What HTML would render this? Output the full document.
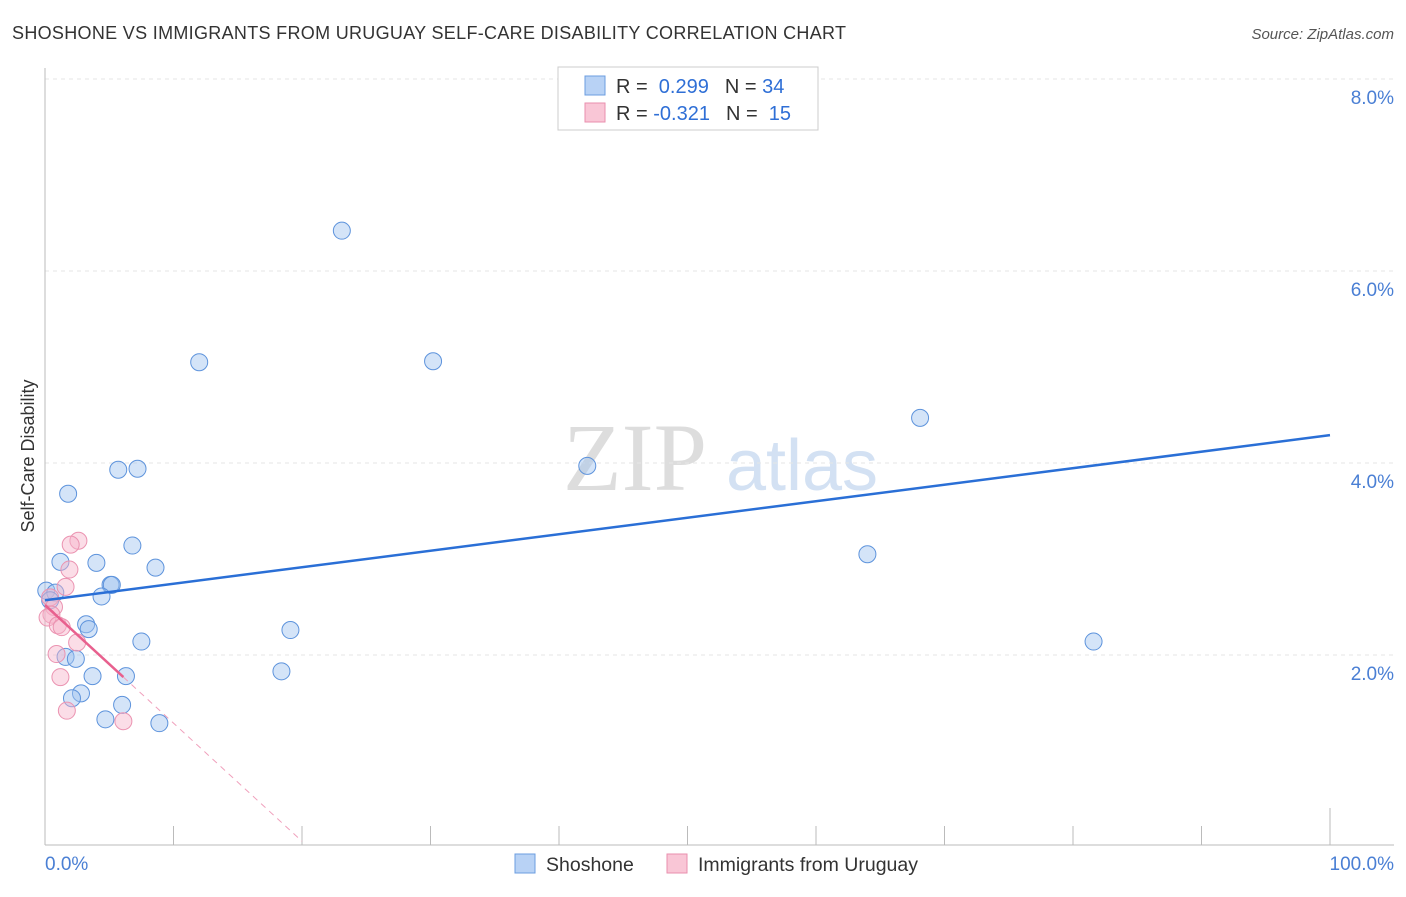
<!DOCTYPE html>
<html><head><meta charset="utf-8"><style>
body{margin:0;background:#fff;font-family:"Liberation Sans",sans-serif}
</style></head><body>
<svg width="1406" height="892" font-family="Liberation Sans, sans-serif" xmlns="http://www.w3.org/2000/svg">
<text x="12" y="39" font-size="18" fill="#333" textLength="834">SHOSHONE VS IMMIGRANTS FROM URUGUAY SELF-CARE DISABILITY CORRELATION CHART</text>
<text x="1394" y="39" font-size="15" fill="#555" font-style="italic" text-anchor="end">Source: ZipAtlas.com</text>
<g><text x="635" y="490" font-size="96" fill="#ddd" style="font-family:'Liberation Serif',serif" text-anchor="middle">ZIP</text><text x="802" y="490" font-size="72" fill="#d3e1f3" text-anchor="middle">atlas</text></g>
<g id="grid"></g>
<line x1="45" y1="68" x2="45" y2="845" stroke="#bbb"/>
<line x1="45" y1="845" x2="1394" y2="845" stroke="#bbb"/>
<g id="ticks"></g>
<text x="45" y="870" font-size="19" fill="#4a7fd4">0.0%</text>
<text x="1394" y="870" font-size="19" fill="#4a7fd4" text-anchor="end">100.0%</text>
<text transform="translate(34,456) rotate(-90)" font-size="18" fill="#333" text-anchor="middle">Self-Care Disability</text>
<g id="pts"></g>
<g id="trends"></g>
<g>
<rect x="558" y="67" width="260" height="63" fill="#fff" stroke="#ccc"/>
<rect x="585" y="76" width="20" height="19" fill="#b8d2f5" stroke="#6b9de0"/>
<text x="616" y="93" font-size="20" fill="#333">R = <tspan fill="#2f6fd6">&#160;0.299</tspan><tspan dx="16">N = </tspan><tspan fill="#2f6fd6">34</tspan></text>
<rect x="585" y="103" width="20" height="19" fill="#f9c6d6" stroke="#e98fae"/>
<text x="616" y="120" font-size="20" fill="#333">R = <tspan fill="#2f6fd6">-0.321</tspan><tspan dx="16">N = </tspan><tspan fill="#2f6fd6">&#160;15</tspan></text>
</g>
<g>
<rect x="515" y="854" width="20" height="19" fill="#b8d2f5" stroke="#6b9de0"/>
<text x="546" y="871" font-size="19.5" fill="#333">Shoshone</text>
<rect x="667" y="854" width="20" height="19" fill="#f9c6d6" stroke="#e98fae"/>
<text x="698" y="871" font-size="19.5" fill="#333">Immigrants from Uruguay</text>
</g>
</svg>
<script>
const yTicks=[2,4,6,8];
const yTickLabels=["2.0%","4.0%","6.0%","8.0%"];
const xTicks=[0,10,20,30,40,50,60,70,80,90,100];
const shoshoneX=[23.1,12.0,30.2,68.1,42.2,5.7,7.2,1.8,6.8,1.2,4.0,8.6,5.1,5.2,64.0,0.1,0.8,4.4,0.4,3.2,3.4,19.1,7.5,81.6,1.6,2.4,18.4,6.3,3.7,2.8,2.1,6.0,4.7,8.9];
const shoshoneY=[6.42,5.05,5.06,4.47,3.97,3.93,3.94,3.68,3.14,2.97,2.96,2.91,2.73,2.73,3.05,2.67,2.65,2.61,2.57,2.32,2.27,2.26,2.14,2.14,1.98,1.96,1.83,1.78,1.78,1.60,1.55,1.48,1.33,1.29];
const uruguayX=[2.6,2.0,1.9,1.6,0.4,0.7,0.5,0.2,1.0,1.3,2.5,0.9,1.2,1.7,6.1];
const uruguayY=[3.19,3.15,2.89,2.71,2.60,2.50,2.42,2.39,2.31,2.29,2.13,2.01,1.77,1.42,1.31];
const blueTrend=[[0,2.57],[100,4.29]];
const pinkTrend=[[0,2.52],[6.1,1.77]];
const pinkDash=[[6.1,1.77],[20,0.06]];
const X=v=>45+v*12.85, Y=v=>847-v*96;
const NS="http://www.w3.org/2000/svg";
function mk(t,a,p){const e=document.createElementNS(NS,t);for(const k in a)e.setAttribute(k,a[k]);p.appendChild(e);return e;}
const grid=document.getElementById('grid');
yTicks.forEach((v,i)=>{
 const l=mk('line',{x1:45,x2:1394,y1:Y(v),y2:Y(v),stroke:'#e6e6e6','stroke-dasharray':'4,4'},grid);
 
 
 const t=mk('text',{x:1394,y:Y(v)+25,'font-size':19,fill:'#4a7fd4','text-anchor':'end'},grid);
 t.textContent=yTickLabels[i];
 
 
});
const ticks=document.getElementById('ticks');
xTicks.forEach(v=>{
 const l=mk('line',{x1:X(v),x2:X(v),y1:v==100?808:826,y2:845,stroke:'#bbb'},ticks);
 
 
});
const pts=document.getElementById('pts');
shoshoneX.forEach((x,i)=>{
 const c=mk('circle',{cx:X(x),cy:Y(shoshoneY[i]),r:8.5,fill:'rgba(160,196,240,0.45)',stroke:'#5d93dc','stroke-width':1},pts);
 
 
});
uruguayX.forEach((x,i)=>{
 const c=mk('circle',{cx:X(x),cy:Y(uruguayY[i]),r:8.5,fill:'rgba(246,180,202,0.45)',stroke:'#eb93b1','stroke-width':1},pts);
 
 
});
const tr=document.getElementById('trends');
let l=mk('line',{x1:X(blueTrend[0][0]),y1:Y(blueTrend[0][1]),x2:X(blueTrend[1][0]),y2:Y(blueTrend[1][1]),stroke:'#2a6fd6','stroke-width':2.5},tr);


l=mk('line',{x1:X(pinkTrend[0][0]),y1:Y(pinkTrend[0][1]),x2:X(pinkTrend[1][0]),y2:Y(pinkTrend[1][1]),stroke:'#e8608e','stroke-width':2.5},tr);


l=mk('line',{x1:X(pinkDash[0][0]),y1:Y(pinkDash[0][1]),x2:X(pinkDash[1][0]),y2:Y(pinkDash[1][1]),stroke:'#f0a0bc','stroke-width':1,'stroke-dasharray':'6,5'},tr);


</script>
</body></html>
